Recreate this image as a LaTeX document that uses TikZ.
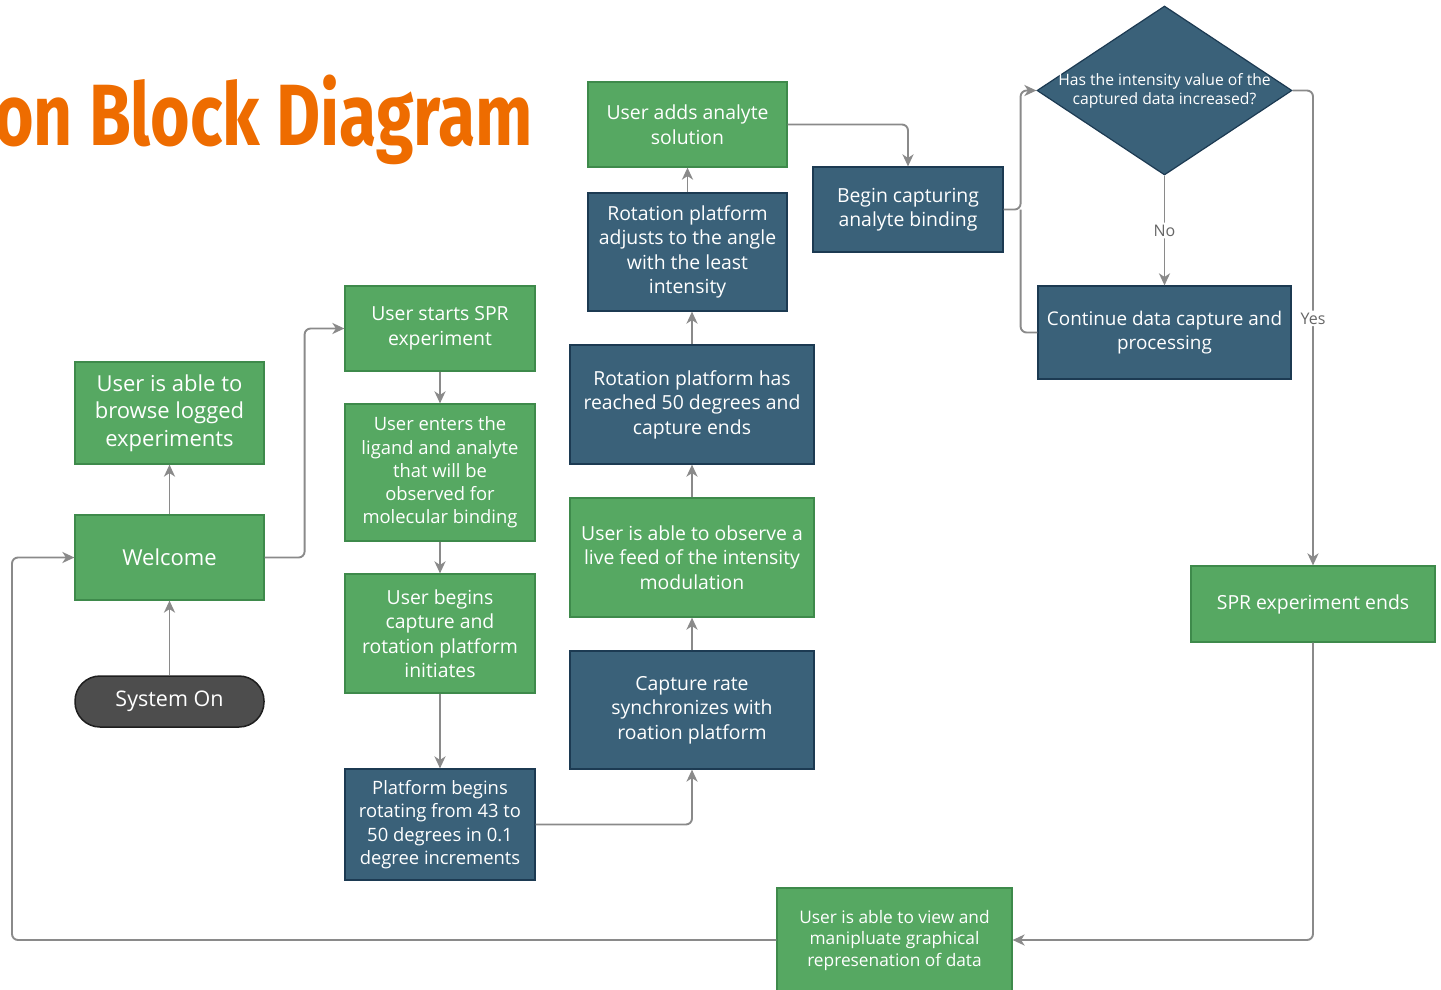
\documentclass[tikz,border=0pt]{standalone}
\usepackage{fontspec}
\setmainfont{Open Sans}
\newfontfamily\titlefont[FakeStretch=0.78]{Fira Sans}
\usetikzlibrary{arrows.meta,shapes.geometric,calc}
\definecolor{gfill}{HTML}{56A862}
\definecolor{gborder}{HTML}{3E8A4B}
\definecolor{bfill}{HTML}{3A6179}
\definecolor{bborder}{HTML}{1C3A52}
\definecolor{sfill}{HTML}{4D4D4D}
\definecolor{sborder}{HTML}{1E1E1E}
\definecolor{cgray}{HTML}{8A8A8A}
\definecolor{lgray}{HTML}{666666}
\definecolor{torange}{HTML}{EE6C00}
\newcommand{\fsz}[2]{\fontsize{#1pt}{#2pt}\selectfont}
\tikzset{
  gbox/.style={draw=gborder, fill=gfill, line width=1.2pt, text=white, align=center, inner sep=0pt},
  bbox/.style={draw=bborder, fill=bfill, line width=1.2pt, text=white, align=center, inner sep=0pt},
  conn/.style={draw=cgray, line width=1.9pt, rounded corners=6pt, -{Stealth[length=12pt,width=11pt,inset=3.5pt]}},
  plainline/.style={draw=cgray, line width=1.9pt, rounded corners=6pt},
  lbl/.style={fill=white, text=lgray, font=\fsz{16}{20}, inner sep=2pt},
}
\begin{document}
\begin{tikzpicture}[x=1pt,y=-1pt]
\useasboundingbox (0,0) rectangle (1441,989);
\clip (0,0) rectangle (1441,989);

\node[anchor=base west, inner sep=0pt, text=torange, font=\titlefont\bfseries\fontsize{87pt}{87pt}\selectfont] (title) at (-6,145) {on Block Diagram};

% boxes
\node[gbox, minimum width=199pt, minimum height=85pt, font=\fsz{19.4}{24.5}] (adds) at (687.5,124.5) {User adds analyte\\solution};
\node[bbox, minimum width=199pt, minimum height=118pt, font=\fsz{19.4}{24.5}] (adjusts) at (687.5,252) {Rotation platform\\adjusts to the angle\\with the least\\intensity};
\node[bbox, minimum width=190pt, minimum height=85pt, font=\fsz{19.4}{24.5}] (begincap) at (908,209.5) {Begin capturing\\analyte binding};
\node[diamond, draw=bborder, fill=bfill, line width=1.2pt, minimum width=255pt, minimum height=169pt, inner sep=0pt] (dia) at (1164.5,90.5) {};
\node[text=white, align=center, font=\fsz{15.7}{19.5}, inner sep=0pt] (diatext) at (1164.5,91) {Has the intensity value of the\\captured data increased?};
\node[bbox, minimum width=253pt, minimum height=93pt, font=\fsz{18.9}{24}] (cont) at (1164.5,332.5) {Continue data capture and\\processing};
\node[gbox, minimum width=244pt, minimum height=76pt, font=\fsz{19.4}{24.5}] (sprend) at (1313,604) {SPR experiment ends};
\node[gbox, minimum width=190pt, minimum height=85pt, font=\fsz{19.4}{24.5}] (starts) at (440,328.5) {User starts SPR\\experiment};
\node[gbox, minimum width=189pt, minimum height=102pt, font=\fsz{22}{27.5}] (browse) at (169.5,413) {User is able to\\browse logged\\experiments};
\node[gbox, minimum width=189pt, minimum height=85pt, font=\fsz{22}{27.5}] (welcome) at (169.5,557.5) {Welcome};
\node[draw=sborder, fill=sfill, line width=1.5pt, text=white, rounded corners=25pt, minimum width=189pt, minimum height=51pt, inner sep=0pt, font=\fsz{21.5}{27}] (syson) at (169.5,701.5) {System On};
\node[gbox, minimum width=190pt, minimum height=137pt, font=\fsz{18.4}{23.2}] (enters) at (440,472.5) {User enters the\\ligand and analyte\\that will be\\observed for\\molecular binding};
\node[gbox, minimum width=190pt, minimum height=119pt, font=\fsz{19.4}{24.5}] (begins) at (440,633.5) {User begins\\capture and\\rotation platform\\initiates};
\node[bbox, minimum width=190pt, minimum height=111pt, font=\fsz{18.4}{23.5}] (platform) at (440,824.5) {Platform begins\\rotating from 43 to\\50 degrees in 0.1\\degree increments};
\node[bbox, minimum width=244pt, minimum height=119pt, font=\fsz{19.4}{24.5}] (reached) at (692,404.5) {Rotation platform has\\reached 50 degrees and\\capture ends};
\node[gbox, minimum width=244pt, minimum height=119pt, font=\fsz{19.4}{24.5}] (observe) at (692,557.5) {User is able to observe a\\live feed of the intensity\\modulation};
\node[bbox, minimum width=244pt, minimum height=118pt, font=\fsz{19.4}{24.5}] (caprate) at (692,710) {Capture rate\\synchronizes with\\roation platform};
\node[gbox, minimum width=235pt, minimum height=104pt, font=\fsz{17.3}{21.5}] (view) at (894.5,940) {User is able to view and\\manipluate graphical\\represenation of data};

% helper coordinates
\coordinate (jn) at ($(begincap.east)+(17,0)$);
\coordinate (lft) at (12,0);
\coordinate (rgt) at ($(welcome.east)+(40,0)$);

% connectors
\draw[conn] (syson) -- (welcome);
\draw[conn] (welcome) -- (browse);
\draw[conn] (welcome.east) -- (rgt) |- (starts.west);
\draw[conn] (starts) -- (enters);
\draw[conn] (enters) -- (begins);
\draw[conn] (begins) -- (platform);
\draw[conn] (platform.east) -| (caprate.south);
\draw[conn] (caprate) -- (observe);
\draw[conn] (observe) -- (reached);
\draw[conn] (reached.north) -- (reached.north |- adjusts.south);
\draw[conn] (adjusts) -- (adds);
\draw[conn] (adds.east) -| (begincap.north);
\draw[conn] (begincap.east) -- (jn) |- (dia.west);
\draw[plainline] (cont.west) -| (jn);
\draw[conn] (dia.south) -- node[lbl] (nolbl) {No} (cont.north);
\draw[conn] (dia.east) -- (dia.east -| sprend.north) -- node[lbl, pos=0.48] (yeslbl) {Yes} (sprend.north);
\draw[conn] (sprend.south) |- (view.east);
\draw[conn] (view.west) -- (view.west -| lft) |- (welcome.west);
\end{tikzpicture}
\end{document}
